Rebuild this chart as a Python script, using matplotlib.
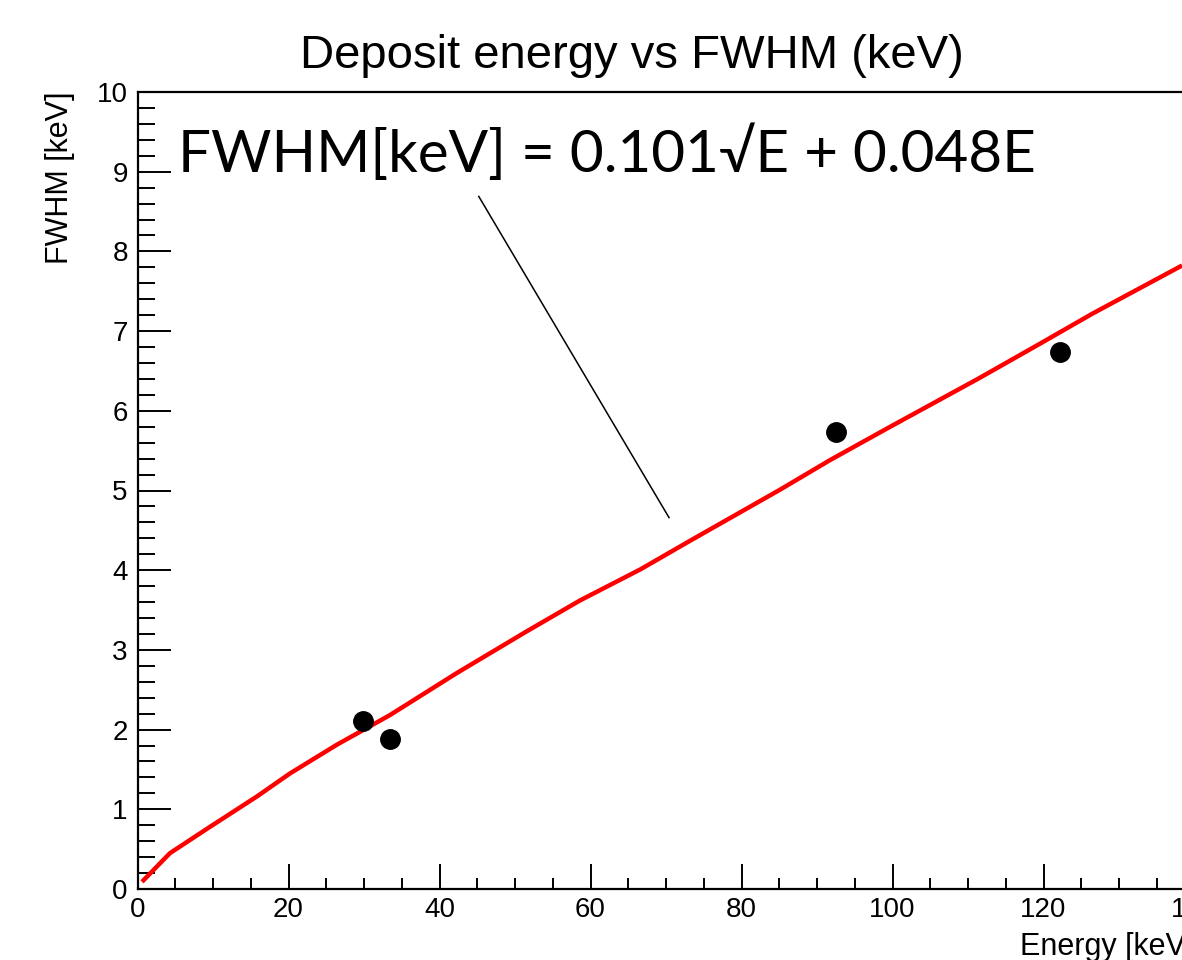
import matplotlib
matplotlib.use("Agg")
import matplotlib.pyplot as plt
from matplotlib.ticker import MultipleLocator

# measured points (deposit energy vs FWHM)
energy = [29.9, 33.4, 92.5, 122.2]
fwhm = [2.11, 1.88, 5.74, 6.74]

# fitted curve
fit_energy = [0.8, 4.3, 9.6, 15.8, 20.2, 26.4, 33.4, 42.3, 51.5, 58.6,
              66.6, 73.2, 85.1, 91.7, 99.7, 111.3, 119.5, 126.5, 138.1]
fit_fwhm = [0.11, 0.45, 0.78, 1.16, 1.45, 1.81, 2.18, 2.71, 3.23, 3.62,
            4.01, 4.37, 5.01, 5.38, 5.80, 6.40, 6.84, 7.22, 7.81]

title = "Deposit energy vs FWHM (keV)"
fit_label = "FWHM[keV] = 0.101\u221aE + 0.048E"


def main():
    plt.rcParams['font.family'] = ['Liberation Sans', 'DejaVu Sans']

    W, H = 1182, 960
    fig = plt.figure(figsize=(W / 100, H / 100), dpi=100)
    x0, y0, x1, y1 = 137.5, 889, 1194.5, 92
    ax = fig.add_axes([x0 / W, 1 - y0 / H, (x1 - x0) / W, (y0 - y1) / H])

    ax.plot(fit_energy, fit_fwhm, color="red", lw=3.2, zorder=2)
    ax.plot(energy, fwhm, "o", color="black", ms=14, zorder=3)

    ax.set_xlim(0, 140)
    ax.set_ylim(0, 10)
    ax.xaxis.set_major_locator(MultipleLocator(20))
    ax.xaxis.set_minor_locator(MultipleLocator(5))
    ax.yaxis.set_major_locator(MultipleLocator(1))
    ax.yaxis.set_minor_locator(MultipleLocator(0.2))

    ax.tick_params(axis="x", which="major", direction="in", length=18,
                   width=1.4, labelsize=20, pad=6)
    ax.tick_params(axis="x", which="minor", direction="in", length=8,
                   width=1.4)
    ax.tick_params(axis="y", which="major", direction="in", length=24,
                   width=1.4, labelsize=20, pad=7)
    ax.tick_params(axis="y", which="minor", direction="in", length=12,
                   width=1.4)
    for s in ax.spines.values():
        s.set_linewidth(1.6)

    ax.text(1.0, -0.054, "Energy [keV]", transform=ax.transAxes,
            ha="right", va="top", fontsize=22)
    ax.text(-0.0733, 1.0, "FWHM [keV]", transform=ax.transAxes,
            rotation=90, ha="center", va="top", fontsize=22)

    fig.text(632 / W, 1 - 68 / H, title, ha="center", va="baseline",
             fontsize=34)

    # fit annotation with pointer line
    ax.text(5.4, 9.0, fit_label, ha="left", va="baseline", fontsize=42,
            family=["Lato", "DejaVu Sans"])
    ax.plot([45.2, 70.4], [8.69, 4.66], color="black", lw=1.1, zorder=1)

    fig.savefig("out.png", dpi=100)


if __name__ == "__main__":
    main()
